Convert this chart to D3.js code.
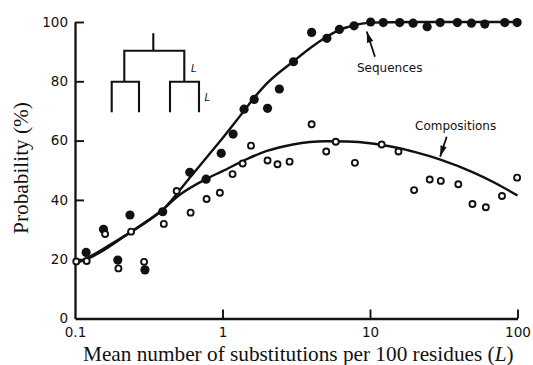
<!DOCTYPE html>
<html><head><meta charset="utf-8">
<script src="https://cdn.jsdelivr.net/npm/d3@7"></script>
<style>body{margin:0;background:#fff}svg{display:block}</style>
</head><body><svg id="c" width="533" height="365"></svg>
<script>
// ---- data ----
const xTicks = [0.1, 1, 10, 100];
const xTickLabels = ["0.1", "1", "10", "100"];
const yTicks = [0, 20, 40, 60, 80, 100];

// Sequences (filled circles)
const seqL = [0.119,0.156,0.195,0.236,0.298,0.393,0.60,0.774,0.98,1.18,1.40,1.64,2.02,2.43,3.03,4.02,5.1,6.2,7.8,10.1,12.3,15.9,19.6,24.4,29.9,39.1,48.7,60,82,99.4];
const seqP = [22.3,30.1,19.7,34.9,16.4,36.0,49.3,47.0,55.7,62.2,70.6,73.9,70.9,77.4,86.6,96.5,94.5,97.5,98.7,100,99.8,99.8,99.6,98.4,99.8,99.8,99.6,99.3,99.8,99.8];

// Compositions (open circles)
const compL = [0.102,0.12,0.16,0.197,0.24,0.294,0.40,0.489,0.608,0.78,0.96,1.17,1.37,1.56,2.02,2.36,2.85,4.02,5.05,5.86,7.9,12.0,15.6,19.9,25.4,30.2,39.7,49.5,61,78.5,99.4];
const compP = [19.2,19.4,28.5,16.9,29.3,19.1,31.9,43.0,35.7,40.3,42.4,48.7,52.3,58.3,53.3,52.0,52.9,65.5,56.3,59.6,52.5,58.7,56.3,43.3,46.9,46.4,45.3,38.6,37.5,41.3,47.5];

// Fitted curves
const seqCurveL = [0.1,0.12,0.2,0.3,0.4,0.6,0.8,1.0,1.3,1.6,2.0,3.0,4.0,5.0,6.0,8.0,10,20,100];
const seqCurveP = [18.5,20.3,26.8,32.3,37,47.5,55,60.8,68,73.8,79.3,86.6,91.5,94.8,97,99,99.8,100,100];
const compCurveL = [0.1,0.12,0.24,0.4,0.5,0.77,1.0,1.5,2,3,5,7,10,12,15.6,20,30,50,70,100];
const compCurveP = [18.7,20,29.3,37,41.3,47,49.7,54,56.5,58.7,59.8,59.7,59.1,58.5,57.5,56.2,53.6,49.3,45.8,41.5];

const seqLabel = "Sequences";
const compLabel = "Compositions";
const xTitle = "Mean number of substitutions per 100 residues (";
const yTitle = "Probability (%)";

// ---- drawing ----
const svg = d3.select("#c");
const ink = "#111";
const x = d3.scaleLog().domain([0.1, 100]).range([75, 517.5]);
const y = d3.scaleLinear().domain([0, 100]).range([318.5, 22]);

// axes
const gx = svg.append("g").attr("transform", `translate(0,${y(0)})`)
  .call(d3.axisBottom(x).tickValues(xTicks).tickFormat((d,i)=>xTickLabels[i]).tickSize(-9).tickPadding(9).tickSizeOuter(0));
gx.select(".domain").attr("stroke", ink).attr("stroke-width", 2.3);
gx.selectAll(".tick line").attr("stroke", ink).attr("stroke-width", 1.9);
gx.selectAll(".tick").filter(d=>d===0.1).select("line").remove();
gx.selectAll("text").attr("fill", ink).attr("font-family", "DejaVu Sans").attr("font-size", 13.5);

const gy = svg.append("g").attr("transform", `translate(${x(0.1)},0)`)
  .call(d3.axisLeft(y).tickValues(yTicks).tickSize(-9).tickPadding(7).tickSizeOuter(0));
gy.select(".domain").attr("stroke", ink).attr("stroke-width", 2.3);
gy.selectAll(".tick line").attr("stroke", ink).attr("stroke-width", 1.9);
gy.selectAll(".tick").filter(d=>d===0).select("line").remove();
gy.selectAll("text").attr("fill", ink).attr("font-family", "DejaVu Sans").attr("font-size", 13.5);

// curves
const line = d3.line().x(d=>x(d[0])).y(d=>y(d[1])).curve(d3.curveMonotoneX);
svg.append("path").datum(seqCurveL.map((l,i)=>[l, seqCurveP[i]]))
  .attr("d", line).attr("fill","none").attr("stroke", ink).attr("stroke-width", 2.4);
svg.append("path").datum(compCurveL.map((l,i)=>[l, compCurveP[i]]))
  .attr("d", line).attr("fill","none").attr("stroke", ink).attr("stroke-width", 2.4);

// points
svg.append("g").selectAll("circle").data(seqL.map((l,i)=>[l, seqP[i]])).join("circle")
  .attr("cx", d=>x(d[0])).attr("cy", d=>y(d[1])).attr("r", 4.6).attr("fill", ink);
svg.append("g").selectAll("circle").data(compL.map((l,i)=>[l, compP[i]])).join("circle")
  .attr("cx", d=>x(d[0])).attr("cy", d=>y(d[1])).attr("r", 3.0)
  .attr("fill", "#fff").attr("stroke", ink).attr("stroke-width", 1.9);

// annotations with arrows
function arrow(x1, y1, x2, y2) {
  svg.append("line").attr("x1", x1).attr("y1", y1).attr("x2", x2).attr("y2", y2)
    .attr("stroke", ink).attr("stroke-width", 1.8);
  const a = Math.atan2(y2 - y1, x2 - x1), len = 11, hw = 3.2;
  const bx = x2 - len*Math.cos(a), by = y2 - len*Math.sin(a);
  const px = -Math.sin(a)*hw, py = Math.cos(a)*hw;
  svg.append("path").attr("d", `M${x2},${y2}L${bx+px},${by+py}L${bx-px},${by-py}Z`).attr("fill", ink);
}
arrow(x(10.8), y(88.3), x(9.5), y(96.8));
arrow(x(33.1), y(61.3), x(29.9), y(54.6));
svg.append("text").attr("x", 357).attr("y", 71.5).text(seqLabel)
  .attr("font-family", "DejaVu Sans").attr("font-size", 12).attr("fill", ink);
svg.append("text").attr("x", 415).attr("y", 130).text(compLabel)
  .attr("font-family", "DejaVu Sans").attr("font-size", 12).attr("fill", ink);

// tree inset
const tree = svg.append("g").attr("fill", "none").attr("stroke", ink).attr("stroke-width", 2.1);
tree.append("path").attr("d",
  "M153.3,33.3V50.7 M124.3,81.7V50.7H184.3V81.7 " +
  "M111.7,112.3V81.7H139V112.3 M170,112.3V81.7H199V112.3");
svg.append("text").attr("x", 191).attr("y", 72).text("L")
  .attr("font-family", "DejaVu Sans").attr("font-style", "italic").attr("font-size", 10).attr("fill", ink);
svg.append("text").attr("x", 204.5).attr("y", 101).text("L")
  .attr("font-family", "DejaVu Sans").attr("font-style", "italic").attr("font-size", 10).attr("fill", ink);

// axis titles
const xt = svg.append("text").attr("x", 83).attr("y", 361)
  .attr("font-family", "Liberation Serif").attr("font-size", 20).attr("fill", ink);
xt.append("tspan").text(xTitle);
xt.append("tspan").attr("font-style", "italic").text("L");
xt.append("tspan").text(")");
const w = xt.node().getComputedTextLength();
xt.attr("font-size", 20 * 431 / w);

const yt = svg.append("text").attr("transform", "translate(28,168) rotate(-90)")
  .attr("text-anchor", "middle").text(yTitle)
  .attr("font-family", "Liberation Serif").attr("font-size", 20).attr("fill", ink);
const wy = yt.node().getComputedTextLength();
yt.attr("font-size", 20 * 132 / wy);
</script></body></html>
